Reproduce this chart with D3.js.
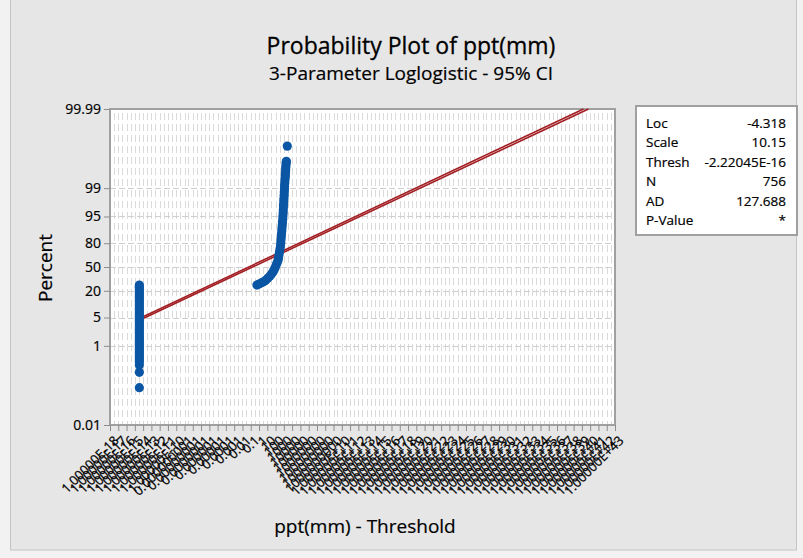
<!DOCTYPE html>
<html>
<head>
<meta charset="utf-8">
<script src="https://cdn.jsdelivr.net/npm/d3@7"></script>
<style>
  body { margin: 0; background: #f2f2f2; }
  svg { display: block; font-family: "Open Sans", sans-serif; }
  text { fill: #000; }
</style>
</head>
<body>
<div id="chart"></div>
<script>

const yTicks = [0.01, 1, 5, 20, 50, 80, 95, 99, 99.99]
const xExps = d3.range(-18, 44)

// zero readings (all sit at the threshold)
const zeroValue = 3.5e-15
const zeroPercents = [0.088, 0.215, 0.33, 0.39, 0.441, 0.5, 0.556, 0.62, 0.7, 0.79, 0.884, 1.0, 1.11, 1.25,
  1.4, 1.58, 1.76, 2.0, 2.21, 2.5, 2.78, 3.1, 3.48, 3.9, 4.35, 4.9, 5.44, 6.1, 6.77, 7.6, 8.4, 9.4,
  10.4, 11.6, 12.8, 14.2, 15.6, 17.2, 18.9, 20.8, 22.7, 24.3, 25.9]

// positive readings
const posValues = [0.56, 0.99, 2.3, 4.0, 6.9, 12, 21, 32, 49, 64, 85, 112, 148, 195, 224, 257, 296, 340,
  390, 425, 448, 490, 515, 560, 590, 645, 676, 740, 776, 830, 850, 900, 925, 980, 1030, 1090, 1120,
  1180, 1220, 1290, 1365, 1440, 1490, 1570, 1660, 1710, 1800, 1910, 2015, 2590]
const posPercents = [25.9, 27.1, 28.8, 30.0, 31.9, 34.5, 37.2, 39.9, 42.8, 45.6, 48.5, 52.2, 55.8, 59.4,
  62.8, 66.8, 70.6, 74.1, 77.3, 80.2, 82.8, 85.2, 87.2, 89.1, 90.7, 92.0, 93.2, 94.25, 95.1, 95.9,
  96.5, 97.1, 97.5, 97.9, 98.2, 98.5, 98.75, 98.95, 99.12, 99.26, 99.38, 99.46, 99.53, 99.595, 99.65,
  99.70, 99.74, 99.77, 99.79, 99.913]

// 95% CI bounds of the fitted line (value, percent)
const ciLower = [[3.5e-15, 4.71], [1.55e39, 99.99]]
const ciUpper = [[3.5e-15, 4.31], [6.2e39, 99.99]]

const statNames = ["Loc", "Scale", "Thresh", "N", "AD", "P-Value"]
const statValues = ["-4.318", "10.15", "-2.22045E-16", "756", "127.688", "*"]

const W = 803, H = 558
const plot = {left: 110, right: 615, top: 109, bottom: 425}

const logit = p => Math.log(p / (100 - p))

const x = d3.scaleLog()
  .domain([1e-18, 1e43])
  .range([plot.left, plot.right])

const y = d3.scaleLinear()
  .domain([logit(0.01), logit(99.99)])
  .range([plot.bottom, plot.top])

const fmtX = e => {
  if (e <= -10) return "1.00000E-" + String(-e).padStart(2, "0")
  if (e < 0) return "0." + "0".repeat(-e - 1) + "1"
  if (e <= 9) return "1" + "0".repeat(e)
  return "1.00000E+" + e
}

const svg = d3.select("#chart").append("svg")
  .attr("width", W)
  .attr("height", H)

svg.append("rect")
  .attr("x", 10.5).attr("y", -1)
  .attr("width", 786).attr("height", 551)
  .attr("fill", "#e6e6e6")
  .attr("stroke", "#c4c4c4")

svg.append("rect")
  .attr("x", plot.left).attr("y", plot.top)
  .attr("width", plot.right - plot.left).attr("height", plot.bottom - plot.top)
  .attr("fill", "#fff")

// grid
const grid = svg.append("g")
const gridX = xExps.slice(0, -1).flatMap(e => [Math.pow(10, e), 3 * Math.pow(10, e)])
  .concat([Math.pow(10, 43)])
grid.selectAll(".gx")
  .data(gridX)
  .join("line")
    .attr("x1", d => Math.round(x(d)) + 0.5)
    .attr("x2", d => Math.round(x(d)) + 0.5)
    .attr("y1", plot.top + 4)
    .attr("y2", plot.bottom)
    .attr("stroke", "#dadada")
    .attr("stroke-dasharray", "7,4")

grid.selectAll(".gy")
  .data(yTicks.slice(1, -1))
  .join("line")
    .attr("x1", plot.left)
    .attr("x2", plot.right)
    .attr("y1", d => Math.round(y(logit(d))) + 0.5)
    .attr("y2", d => Math.round(y(logit(d))) + 0.5)
    .attr("stroke", "#cfcfcf")
    .attr("stroke-dasharray", "6,3")

// frame
svg.append("rect")
  .attr("x", plot.left).attr("y", plot.top)
  .attr("width", plot.right - plot.left).attr("height", plot.bottom - plot.top)
  .attr("fill", "none")
  .attr("stroke", "#a0a0a0")
  .attr("stroke-width", 2)

// axes
const xAxis = svg.append("g")
  .attr("transform", `translate(0,${plot.bottom})`)
  .call(d3.axisBottom(x).tickValues(xExps.map(e => Math.pow(10, e))).tickSize(6).tickFormat(""))
xAxis.select(".domain").remove()
xAxis.selectAll("line").attr("stroke", "#8c8c8c")

svg.append("g")
  .selectAll("text")
  .data(xExps)
  .join("text")
    .attr("transform", e => `translate(${x(Math.pow(10, e)) + 3},${plot.bottom + 10}) rotate(-45)`)
    .attr("text-anchor", "end")
    .attr("dy", "0.7em")
    .attr("font-size", 13)
    .attr("stroke", "#000")
    .attr("stroke-width", 0.25)
    .text(fmtX)

const yAxis = svg.append("g")
  .attr("transform", `translate(${plot.left},0)`)
  .call(d3.axisLeft(y).tickValues(yTicks.map(logit)).tickSize(6)
    .tickFormat((d, i) => String(yTicks[i])))
yAxis.select(".domain").remove()
yAxis.selectAll("line").attr("stroke", "#8c8c8c")
yAxis.selectAll("text")
  .attr("font-size", 14)
  .attr("font-family", "Open Sans, sans-serif")
  .attr("stroke", "#000")
  .attr("stroke-width", 0.2)
  .attr("x", -9)

// fitted line and CI
const line = d3.line()
  .x(d => x(d[0]))
  .y(d => y(logit(d[1])))

svg.selectAll(".ci")
  .data([ciLower, ciUpper])
  .join("path")
    .attr("d", line)
    .attr("fill", "none")
    .attr("stroke", "#a21d22")
    .attr("stroke-width", 1.6)

// points
const pts = zeroPercents.map(p => [zeroValue, p])
  .concat(posValues.map((v, i) => [v, posPercents[i]]))

svg.append("g")
  .selectAll("circle")
  .data(pts)
  .join("circle")
    .attr("cx", d => x(d[0]))
    .attr("cy", d => y(logit(d[1])))
    .attr("r", 4.6)
    .attr("fill", "#0b56a4")

// titles
svg.append("text")
  .attr("x", 411).attr("y", 54)
  .attr("text-anchor", "middle")
  .attr("font-size", 23)
  .attr("stroke", "#000")
  .attr("stroke-width", 0.3)
  .text("Probability Plot of ppt(mm)")

svg.append("text")
  .attr("x", 411).attr("y", 80)
  .attr("text-anchor", "middle")
  .attr("font-size", 19)
  .attr("stroke", "#000")
  .attr("stroke-width", 0.2)
  .text("3-Parameter Loglogistic - 95% CI")

svg.append("text")
  .attr("transform", "translate(52,268) rotate(-90)")
  .attr("text-anchor", "middle")
  .attr("font-size", 19)
  .attr("stroke", "#000")
  .attr("stroke-width", 0.2)
  .text("Percent")

svg.append("text")
  .attr("x", 365).attr("y", 533)
  .attr("text-anchor", "middle")
  .attr("font-size", 19)
  .attr("stroke", "#000")
  .attr("stroke-width", 0.2)
  .text("ppt(mm) - Threshold")

// stats box
const box = svg.append("g")
box.append("rect")
  .attr("x", 636).attr("y", 106)
  .attr("width", 161).attr("height", 129)
  .attr("fill", "#fff")
  .attr("stroke", "#a0a0a0")
  .attr("stroke-width", 2)

box.selectAll(".nm")
  .data(statNames)
  .join("text")
    .attr("x", 646)
    .attr("y", (d, i) => 128 + i * 19.4)
    .attr("font-size", 13.5)
    .attr("stroke", "#000")
    .attr("stroke-width", 0.2)
    .text(d => d)

box.selectAll(".vl")
  .data(statValues)
  .join("text")
    .attr("x", 786)
    .attr("y", (d, i) => 128 + i * 19.4)
    .attr("text-anchor", "end")
    .attr("font-size", 13.5)
    .attr("stroke", "#000")
    .attr("stroke-width", 0.2)
    .text(d => d)
</script>
</body>
</html>
